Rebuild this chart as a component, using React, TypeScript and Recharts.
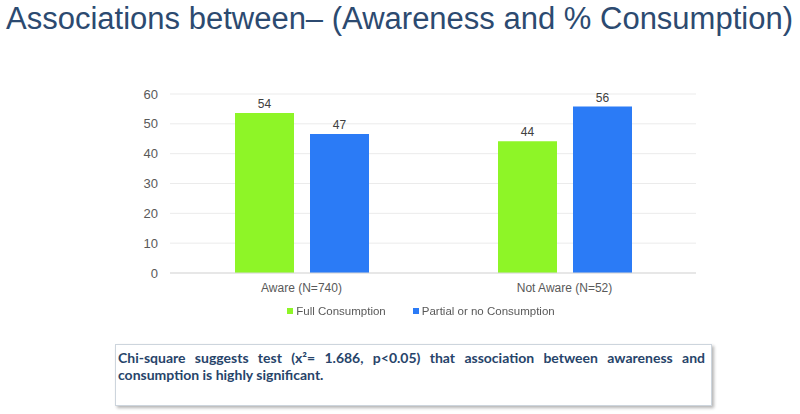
import React from 'react';
import { BarChart, Bar, XAxis, YAxis, CartesianGrid, Legend, LabelList } from 'recharts';

const categories = ['Aware (N=740)', 'Not Aware (N=52)'];
const fullConsumption = [53.6, 44.2];
const partialConsumption = [46.6, 55.8];
const yTicks = [0, 10, 20, 30, 40, 50, 60];

const data = categories.map((name, i) => ({
  name,
  full: fullConsumption[i],
  partial: partialConsumption[i],
}));

const fmt = (v: number) => String(Math.round(v));
const font = 'Liberation Sans, Arial, sans-serif';

const renderLegend = (props: any) => (
  <div style={{ display: 'flex', justifyContent: 'center', fontSize: 11.5, fontFamily: font, color: '#595959' }}>
    {props.payload.map((entry: any, i: number) => (
      <div key={i} style={{ display: 'flex', alignItems: 'center', marginRight: i === 0 ? 27 : 0 }}>
        <span style={{ width: 6, height: 6, background: entry.color, display: 'inline-block', marginRight: 3 }} />
        <span>{entry.value}</span>
      </div>
    ))}
  </div>
);

export default function App() {
  return (
    <div style={{ position: 'fixed', left: 0, top: 0, width: 800, height: 414, background: '#fff' }}>
      <svg width={800} height={40} style={{ position: 'absolute', left: 0, top: 0 }}>
        <text
          x={6}
          y={28.5}
          fontFamily={font}
          fontSize={31}
          fill="#2c4a70"
          textLength={787}
          lengthAdjust="spacingAndGlyphs"
        >
          Associations between– (Awareness and % Consumption)
        </text>
      </svg>

      <div style={{ position: 'absolute', left: 0, top: 0 }}>
        <BarChart
          width={800}
          height={330}
          data={data}
          margin={{ top: 94, right: 104, left: 0, bottom: 13 }}
          barGap={16}
          barSize={59}
        >
          <CartesianGrid vertical={false} stroke="#ebebeb" />
          <XAxis
            dataKey="name"
            tickLine={false}
            axisLine={{ stroke: '#d9d9d9' }}
            tick={{ fill: '#595959', fontSize: 12, fontFamily: font, dy: 2 }}
            height={32}
          />
          <YAxis
            ticks={yTicks}
            domain={[0, 60]}
            width={170}
            tickLine={false}
            axisLine={false}
            tickMargin={6}
            tick={{ fill: '#595959', fontSize: 13, fontFamily: font }}
          />
          <Legend
            verticalAlign="bottom"
            content={renderLegend}
            wrapperStyle={{ left: 0, width: 842 }}
          />
          <Bar dataKey="full" name="Full Consumption" fill="#8ef527" isAnimationActive={false}>
            <LabelList
              dataKey="full"
              position="top"
              offset={5}
              formatter={fmt}
              fill="#404040"
              fontSize={12}
              fontFamily={font}
            />
          </Bar>
          <Bar dataKey="partial" name="Partial or no Consumption" fill="#2b7bf6" isAnimationActive={false}>
            <LabelList
              dataKey="partial"
              position="top"
              offset={5}
              formatter={fmt}
              fill="#404040"
              fontSize={12}
              fontFamily={font}
            />
          </Bar>
        </BarChart>
      </div>

      <div
        style={{
          position: 'absolute',
          left: 115,
          top: 344,
          width: 597,
          height: 62,
          boxSizing: 'border-box',
          border: '1px solid #cdd5dd',
          boxShadow: '2px 2px 3px #b5b5b5',
          padding: '4px 6px 0 2px',
          fontFamily: 'Lato, Noto Sans, sans-serif',
          fontWeight: 700,
          fontSize: 14,
          lineHeight: '17px',
          color: '#27446a',
        }}
      >
        <div style={{ textAlign: 'justify', textAlignLast: 'justify', whiteSpace: 'nowrap' as const }}>
          Chi-square suggests test (x²= 1.686, p&lt;0.05) that association between awareness and
        </div>
        <div>consumption is highly significant.</div>
      </div>
    </div>
  );
}
